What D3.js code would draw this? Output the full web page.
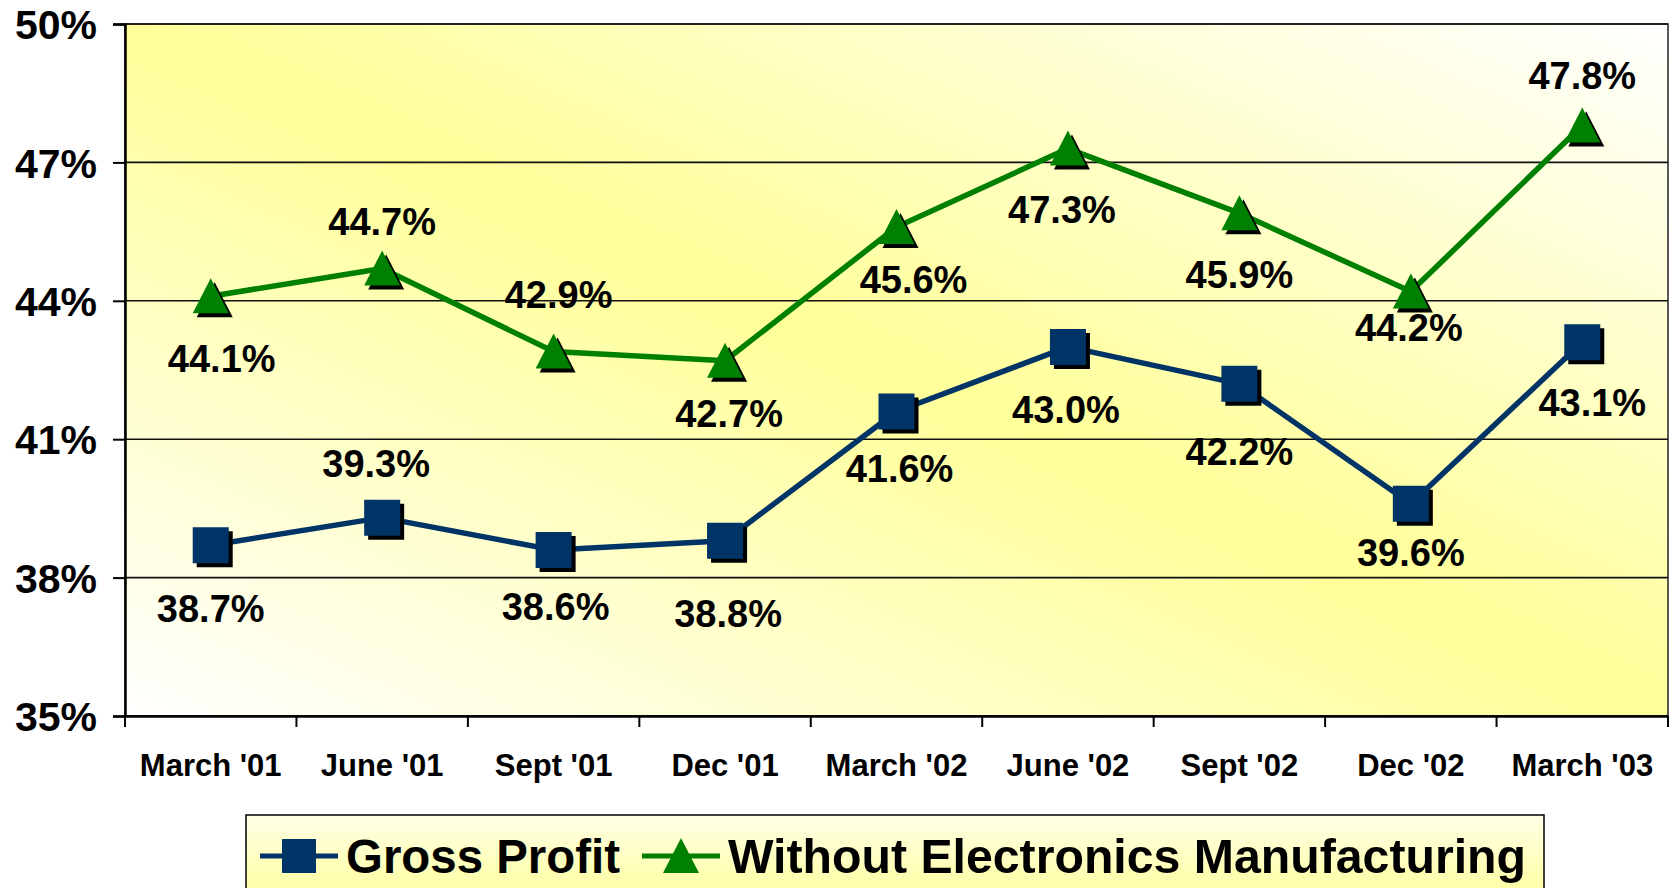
<!DOCTYPE html>
<html>
<head>
<meta charset="utf-8">
<script src="https://cdnjs.cloudflare.com/ajax/libs/d3/7.8.5/d3.min.js"></script>
<style>
  html, body { margin: 0; padding: 0; background: #fff; }
  svg { display: block; font-family: "Liberation Sans", Arial, sans-serif; font-weight: bold; }
</style>
</head>
<body>
<div id="chart"></div>
<script>
// data
const categories = ["March '01", "June '01", "Sept '01", "Dec '01", "March '02", "June '02", "Sept '02", "Dec '02", "March '03"];
const grossProfit = [38.7, 39.3, 38.6, 38.8, 41.6, 43.0, 42.2, 39.6, 43.1];
const withoutElectronics = [44.1, 44.7, 42.9, 42.7, 45.6, 47.3, 45.9, 44.2, 47.8];
const yTicks = [35, 38, 41, 44, 47, 50];
const seriesNames = ["Gross Profit", "Without Electronics Manufacturing"];

// label placement (pixels from the point), layout only
const grossLabelDx = [0, -6, 2, 3, 3, -2, 0, 0, 10];
const grossLabelDy = [63, -54, 56, 73, 57, 62, 67, 49, 60];
const greenLabelDx = [11, 0, 5, 4, 17, -6, 0, -2, 0];
const greenLabelDy = [62, -47, -57, 53, 52, 61, 61, 36, -50];

const width = 1676, height = 888;
const margin = {top: 24, right: 8, bottom: 172, left: 125};

const svg = d3.select("#chart").append("svg")
    .attr("width", width)
    .attr("height", height);

const defs = svg.append("defs");
let plotGrad = defs.append("linearGradient").attr("id", "plotGrad")
    .attr("x1", 0).attr("y1", 1).attr("x2", 1).attr("y2", 0);
plotGrad.append("stop").attr("offset", 0).attr("stop-color", "#ffffff");
plotGrad.append("stop").attr("offset", 0.5).attr("stop-color", "#ffff99");
plotGrad.append("stop").attr("offset", 1).attr("stop-color", "#ffffff");

let legendGrad = defs.append("linearGradient").attr("id", "legendGrad")
    .attr("x1", 0).attr("y1", 0).attr("x2", 0).attr("y2", 1);
legendGrad.append("stop").attr("offset", 0).attr("stop-color", "#ffffe6");
legendGrad.append("stop").attr("offset", 1).attr("stop-color", "#ffff99");

let xScale = d3.scaleBand()
    .domain(categories)
    .range([margin.left, width - margin.right]);

let yScale = d3.scaleLinear()
    .domain([35, 50])
    .range([height - margin.bottom, margin.top]);

let cx = d => xScale(d) + xScale.bandwidth() / 2;

// plot background
svg.append("rect")
    .attr("x", margin.left)
    .attr("y", yScale(50))
    .attr("width", xScale.range()[1] - margin.left)
    .attr("height", yScale(35) - yScale(50))
    .attr("fill", "url(#plotGrad)")
    .attr("stroke", "#222")
    .attr("stroke-width", 1.5);

// gridlines
svg.append("g").selectAll("line").data(yTicks).enter().append("line")
    .attr("x1", margin.left)
    .attr("x2", xScale.range()[1])
    .attr("y1", d => yScale(d))
    .attr("y2", d => yScale(d))
    .attr("stroke", "#111")
    .attr("stroke-width", 1.6);

// y axis
let axisy = d3.axisLeft(yScale).tickValues(yTicks).tickSize(12).tickFormat(d => d + "%");
let yAxis = svg.append("g")
    .attr("transform", "translate(" + margin.left + ",0)")
    .call(axisy);
yAxis.select(".domain").attr("stroke", "#000").attr("stroke-width", 2.5);
yAxis.selectAll(".tick line").attr("stroke", "#000").attr("stroke-width", 2);
yAxis.selectAll("text")
    .attr("x", -28)
    .attr("dy", "0.36em")
    .style("font-size", "41px")
    .style("font-family", "'Liberation Sans', Arial, sans-serif")
    .style("font-weight", "bold")
    .attr("fill", "#000");

// x axis: ticks between categories
let axisx = d3.axisBottom(xScale).tickSize(0).tickSizeOuter(0);
let xAxis = svg.append("g")
    .attr("transform", "translate(0," + yScale(35) + ")")
    .call(axisx);
xAxis.select(".domain").attr("stroke", "#000").attr("stroke-width", 2.5);
xAxis.selectAll("text")
    .attr("y", 60)
    .attr("dy", 0)
    .style("font-size", "31px")
    .style("font-family", "'Liberation Sans', Arial, sans-serif")
    .style("font-weight", "bold")
    .attr("fill", "#000");

let boundaries = categories.map(c => xScale(c)).concat([xScale.range()[1]]);
svg.append("g").selectAll("line").data(boundaries).enter().append("line")
    .attr("x1", d => d).attr("x2", d => d)
    .attr("y1", yScale(35)).attr("y2", yScale(35) + 11)
    .attr("stroke", "#000").attr("stroke-width", 2);

const trianglePath = "M0,-18L18,17L-18,17Z";

function drawSeries(values, color, marker, labelDx, labelDy) {
    let g = svg.append("g");
    let pts = values.map((v, i) => ({cat: categories[i], v: v, i: i}));
    let line = d3.line().x(d => cx(d.cat)).y(d => yScale(d.v));

    g.append("path")
        .attr("d", line(pts))
        .attr("fill", "none")
        .attr("stroke", color)
        .attr("stroke-width", 5.5)
        .attr("stroke-linejoin", "round");

    // shadow then marker
    [["#000", 4], [color, 0]].forEach(function(s) {
        let m = g.append("g").selectAll("path").data(pts).enter().append("path")
            .attr("transform", d => "translate(" + (cx(d.cat) + s[1]) + "," + (yScale(d.v) + s[1]) + ")")
            .attr("fill", s[0]);
        if (marker == "square")
            m.attr("d", "M-18,-18H18V18H-18Z");
        else
            m.attr("d", trianglePath);
    });

    g.append("g").selectAll("text").data(pts).enter().append("text")
        .attr("x", d => cx(d.cat) + labelDx[d.i])
        .attr("y", d => yScale(d.v) + labelDy[d.i])
        .attr("dy", "0.36em")
        .attr("text-anchor", "middle")
        .style("font-size", "38px")
        .attr("fill", "#000")
        .text(d => d.v.toFixed(1) + "%");
}

drawSeries(grossProfit, "#003366", "square", grossLabelDx, grossLabelDy);
drawSeries(withoutElectronics, "#008000", "triangle", greenLabelDx, greenLabelDy);

// legend
let legend = svg.append("g");
legend.append("rect")
    .attr("x", 246).attr("y", 815)
    .attr("width", 1298).attr("height", 90)
    .attr("fill", "url(#legendGrad)")
    .attr("stroke", "#000")
    .attr("stroke-width", 1.5);

let legendItems = [
    {name: seriesNames[0], color: "#003366", marker: "square", x: 260},
    {name: seriesNames[1], color: "#008000", marker: "triangle", x: 642}
];
let ly = 856;
legendItems.forEach(function(item) {
    legend.append("line")
        .attr("x1", item.x).attr("x2", item.x + 78)
        .attr("y1", ly).attr("y2", ly)
        .attr("stroke", item.color).attr("stroke-width", 5);
    let sym = legend.append("path")
        .attr("transform", "translate(" + (item.x + 39) + "," + ly + ")")
        .attr("fill", item.color);
    if (item.marker == "square") sym.attr("d", "M-17,-17H17V17H-17Z");
    else sym.attr("d", trianglePath);
    legend.append("text")
        .attr("x", item.x + 86)
        .attr("y", 873)
        .style("font-size", "48.5px")
        .attr("textLength", item.marker == "square" ? 274 : 798)
        .attr("lengthAdjust", "spacingAndGlyphs")
        .attr("fill", "#000")
        .text(item.name);
});
</script>
</body>
</html>
